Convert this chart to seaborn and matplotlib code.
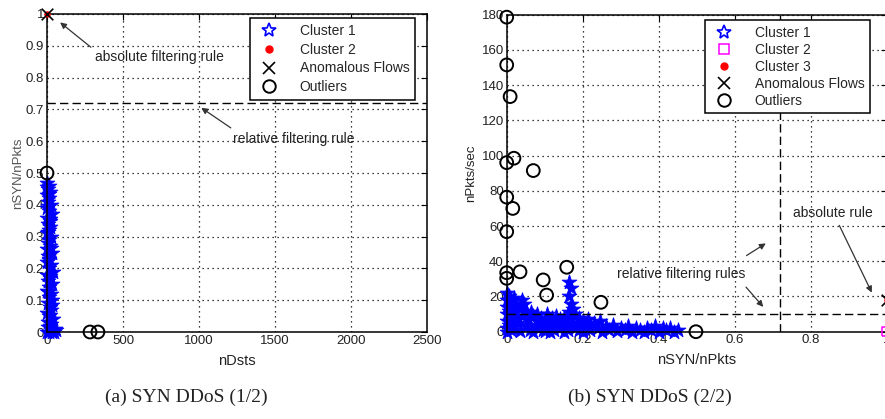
import matplotlib
matplotlib.use("Agg")
import matplotlib.pyplot as plt
from matplotlib.lines import Line2D
import seaborn as sns

# ---------------- data (panel a) ----------------
a_c1_x = [0, 10, 5, 20, 0, 15, 8, 25, 3, 12, 30, 0, 18, 6, 22, 10, 2, 28, 14, 5, 20, 0, 35, 9, 16, 3, 25,
          12, 40, 0, 20, 7, 30, 15, 2, 24, 10, 35, 4, 18, 28, 0, 12, 38, 6, 22, 50, 0, 15, 30, 45, 60, 8,
          26, 17, 33, 5, 21, 11, 27, 4, 19, 9, 14, 2]
a_c1_y = [0.47, 0.46, 0.45, 0.44, 0.43, 0.42, 0.41, 0.40, 0.39, 0.38, 0.37, 0.36, 0.35, 0.34, 0.33, 0.32,
          0.31, 0.30, 0.29, 0.28, 0.27, 0.26, 0.25, 0.24, 0.23, 0.22, 0.21, 0.20, 0.19, 0.18, 0.17, 0.16,
          0.15, 0.14, 0.13, 0.12, 0.11, 0.10, 0.09, 0.08, 0.07, 0.06, 0.05, 0.04, 0.03, 0.02, 0.01, 0.0,
          0.0, 0.0, 0.0, 0.005, 0.015, 0.025, 0.055, 0.085, 0.125, 0.175, 0.225, 0.265, 0.315, 0.355,
          0.395, 0.435, 0.455]
a_c2_x = [0]
a_c2_y = [1.0]
a_anom_x = [0]
a_anom_y = [1.0]
a_out_x = [0, 283, 335]
a_out_y = [0.5, 0.0, 0.0]
a_rel_rule = 0.72

# ---------------- data (panel b) ----------------
b_c1 = [(0, 22), (0.005, 20), (0, 18), (0.01, 16), (0, 14), (0.005, 12), (0.015, 11), (0, 10), (0.01, 8),
        (0, 6), (0.005, 4), (0.015, 2), (0, 0), (0.02, 19), (0.025, 15), (0.02, 13),
        (0.04, 18), (0.045, 16), (0.035, 13), (0.05, 12), (0.04, 9), (0.055, 7), (0.03, 5), (0.05, 3),
        (0.06, 1), (0.035, 0.5),
        (0.07, 9), (0.08, 6), (0.075, 3), (0.09, 8), (0.1, 5), (0.095, 1), (0.11, 7), (0.12, 4), (0.115, 0),
        (0.13, 9), (0.135, 6), (0.14, 2), (0.15, 8), (0.155, 4), (0.16, 1), (0.17, 7), (0.175, 3), (0.18, 10),
        (0.185, 5), (0.19, 1), (0.2, 6), (0.195, 3), (0.065, 11), (0.085, 2), (0.105, 10), (0.125, 1),
        (0.145, 5),
        (0.165, 28), (0.17, 25), (0.165, 20), (0.17, 16), (0.175, 13), (0.165, 11),
        (0.21, 4), (0.22, 1), (0.23, 5), (0.24, 2), (0.25, 0), (0.26, 3), (0.27, 1), (0.28, 4), (0.29, 0.5),
        (0.3, 2), (0.215, 7), (0.245, 6),
        (0.31, 1), (0.32, 3), (0.33, 0), (0.34, 2), (0.35, 1), (0.36, 0), (0.37, 2), (0.38, 1), (0.39, 3),
        (0.4, 0), (0.41, 2), (0.42, 1), (0.43, 2), (0.44, 0), (0.45, 1),
        (0.0, 2), (0.01, 1), (0.02, 3), (0.03, 7), (0.06, 4), (0.07, 0), (0.08, 10), (0.09, 3), (0.1, 0.5),
        (0.11, 2), (0.12, 8), (0.13, 3), (0.14, 7), (0.15, 0), (0.16, 6), (0.18, 2), (0.19, 8), (0.2, 0)]
b_c1_x = [p[0] for p in b_c1]
b_c1_y = [p[1] for p in b_c1]
b_c2_x = [1.0]
b_c2_y = [0.0]
b_c3_x = [1.0]
b_c3_y = [18.0]
b_anom_x = [1.0]
b_anom_y = [18.0]
b_out_x = [0, 0, 0.009, 0, 0.019, 0.07, 0, 0.016, 0, 0, 0, 0.035, 0.096, 0.105, 0.158, 0.248, 0.498]
b_out_y = [178.6, 151.5, 133.5, 96, 98.5, 91.5, 76.4, 70, 56.8, 33.5, 30.3, 34, 29.4, 20.8, 36.6, 16.7, 0]
b_rel_x = 0.72
b_rel_y = 10

sns.set_style("white")
plt.rcParams['font.family'] = ['Liberation Sans', 'DejaVu Sans']

W, H = 885, 419
fig = plt.figure(figsize=(W / 100, H / 100), dpi=100)
axA = fig.add_axes([47 / W, (H - 332) / H, 380 / W, 318 / H])
axB = fig.add_axes([506.7 / W, (H - 331.7) / H, 380 / W, 317 / H])

FS = 9.5      # tick labels
AFS = 10      # annotations
LFS = 10      # legend
TXT = '#222222'


def style(ax):
    ax.grid(True, ls=(0, (1, 3)), color='k', lw=0.9)
    ax.set_axisbelow(True)
    for s in ax.spines.values():
        s.set_color('k')
        s.set_linewidth(1.1)
        s.set_visible(True)
    ax.tick_params(direction='in', length=4, labelsize=FS, colors='k', top=True, right=True,
                   labelcolor=TXT, pad=2)


star_kw = dict(marker='*', s=125, facecolor='blue', edgecolor='blue', linewidth=0.6)
circ_kw = dict(marker='o', s=85, facecolor='none', edgecolor='k', linewidth=1.4)
x_kw = dict(marker='x', s=70, color='k', linewidth=1.2)
dot_kw = dict(marker='o', s=22, color='red', linewidth=0)

h_star = Line2D([], [], ls='none', marker='*', ms=10, mfc='none', mec='blue', mew=1.2)
h_sq = Line2D([], [], ls='none', marker='s', ms=7, mfc='none', mec='magenta', mew=1.1)
h_dot = Line2D([], [], ls='none', marker='o', ms=5, mfc='red', mec='red')
h_x = Line2D([], [], ls='none', marker='x', ms=9, mec='k', mew=1.2)
h_o = Line2D([], [], ls='none', marker='o', ms=9, mfc='none', mec='k', mew=1.4)

leg_kw = dict(loc='upper right', fontsize=LFS, frameon=True, fancybox=False, framealpha=1,
              edgecolor='k', borderpad=0.4, handletextpad=1.2, borderaxespad=0.0)

# ---------- panel a ----------
sns.scatterplot(x=a_c1_x, y=a_c1_y, ax=axA, clip_on=False, **star_kw)
sns.scatterplot(x=a_c2_x, y=a_c2_y, ax=axA, clip_on=False, zorder=4, **dot_kw)
sns.scatterplot(x=a_anom_x, y=a_anom_y, ax=axA, clip_on=False, zorder=5, **x_kw)
sns.scatterplot(x=a_out_x, y=a_out_y, ax=axA, clip_on=False, zorder=5, **circ_kw)
axA.axhline(a_rel_rule, color='k', ls=(0, (6, 3)), lw=1.0)
axA.set_xlim(0, 2500)
axA.set_ylim(0, 1)
axA.set_xticks([0, 500, 1000, 1500, 2000, 2500])
axA.set_yticks([0, 0.1, 0.2, 0.3, 0.4, 0.5, 0.6, 0.7, 0.8, 0.9, 1.0])
axA.set_yticklabels(['0', '0.1', '0.2', '0.3', '0.4', '0.5', '0.6', '0.7', '0.8', '0.9', '1'])
style(axA)
axA.set_xlabel('nDsts', fontsize=10.5, color=TXT, labelpad=5)
axA.set_ylabel('nSYN/nPkts', fontsize=9.5, color='#555555', labelpad=1)
axA.legend([h_star, h_dot, h_x, h_o], ['Cluster 1', 'Cluster 2', 'Anomalous Flows', 'Outliers'],
           bbox_to_anchor=(0.968, 0.987), labelspacing=0.35, **leg_kw).get_frame().set_linewidth(1.1)
axA.annotate('', xy=(72, 0.979), xytext=(303, 0.89),
             arrowprops=dict(arrowstyle='-|>', color='#333333', lw=0.9, mutation_scale=9))
axA.text(737, 0.864, 'absolute filtering rule', fontsize=AFS, ha='center', va='center', color=TXT)
axA.annotate('', xy=(1000, 0.71), xytext=(1224, 0.637),
             arrowprops=dict(arrowstyle='-|>', color='#333333', lw=0.9, mutation_scale=9))
axA.text(1625, 0.606, 'relative filtering rule', fontsize=AFS, ha='center', va='center', color=TXT)

# ---------- panel b ----------
sns.scatterplot(x=b_c1_x, y=b_c1_y, ax=axB, clip_on=False, **star_kw)
sns.scatterplot(x=b_c2_x, y=b_c2_y, ax=axB, clip_on=False, zorder=4,
                marker='s', s=45, facecolor='none', edgecolor='magenta', linewidth=1.1)
sns.scatterplot(x=b_c3_x, y=b_c3_y, ax=axB, clip_on=False, zorder=4, **dot_kw)
sns.scatterplot(x=b_anom_x, y=b_anom_y, ax=axB, clip_on=False, zorder=5, **x_kw)
sns.scatterplot(x=b_out_x, y=b_out_y, ax=axB, clip_on=False, zorder=5, **circ_kw)
axB.axvline(b_rel_x, color='k', ls=(0, (6, 3)), lw=1.0)
axB.axhline(b_rel_y, color='k', ls=(0, (6, 3)), lw=1.0)
axB.set_xlim(0, 1)
axB.set_ylim(0, 180)
axB.set_xticks([0, 0.2, 0.4, 0.6, 0.8, 1.0])
axB.set_xticklabels(['0', '0.2', '0.4', '0.6', '0.8', '1'])
axB.set_yticks(list(range(0, 181, 20)))
style(axB)
axB.set_xlabel('nSYN/nPkts', fontsize=10.5, color=TXT, labelpad=5)
axB.set_ylabel('nPkts/sec', fontsize=9.5, color=TXT, labelpad=3)
axB.legend([h_star, h_sq, h_dot, h_x, h_o],
           ['Cluster 1', 'Cluster 2', 'Cluster 3', 'Anomalous Flows', 'Outliers'],
           bbox_to_anchor=(0.956, 0.983), labelspacing=0.22, **leg_kw).get_frame().set_linewidth(1.1)
axB.annotate('', xy=(0.688, 51), xytext=(0.625, 42.4),
             arrowprops=dict(arrowstyle='-|>', color='#333333', lw=0.9, mutation_scale=9))
axB.annotate('', xy=(0.68, 12.9), xytext=(0.625, 26.5),
             arrowprops=dict(arrowstyle='-|>', color='#333333', lw=0.9, mutation_scale=9))
axB.text(0.459, 32.6, 'relative filtering rules', fontsize=AFS, ha='center', va='center', color=TXT)
axB.annotate('', xy=(0.964, 20.8), xytext=(0.872, 61.8),
             arrowprops=dict(arrowstyle='-|>', color='#333333', lw=0.9, mutation_scale=9))
axB.text(0.859, 67.3, 'absolute rule', fontsize=AFS, ha='center', va='center', color=TXT)

# ---------- captions ----------
fig.text(186 / W, 1 - 397 / H, '(a) SYN DDoS (1/2)', family='Liberation Serif', fontsize=14,
         ha='center', va='center', color=TXT)
fig.text(650 / W, 1 - 397 / H, '(b) SYN DDoS (2/2)', family='Liberation Serif', fontsize=14,
         ha='center', va='center', color=TXT)

fig.savefig('out.png', dpi=100)
